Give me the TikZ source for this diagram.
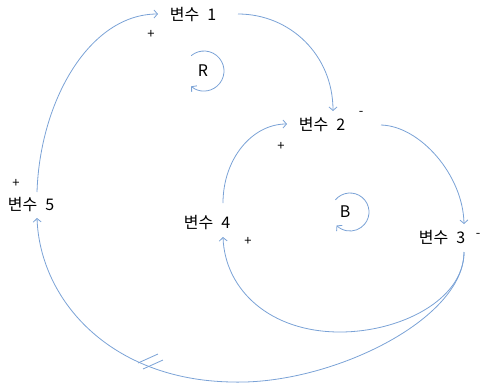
\documentclass[tikz,border=0pt]{standalone}
\usepackage{fontspec}
\setmainfont{Noto Sans CJK KR}
\usetikzlibrary{arrows.meta}
\definecolor{lnk}{RGB}{122,162,214}
\tikzset{
  lbl/.style={inner sep=0pt, font=\fontsize{16}{19}\selectfont},
  sgn/.style={inner sep=0pt, font=\fontsize{13}{15}\selectfont},
  lnkline/.style={draw=lnk, line width=0.8pt, -{Straight Barb[length=3.5pt,width=8pt]}},
  hashline/.style={draw=lnk, line width=0.8pt},
}
\begin{document}
\begin{tikzpicture}[x=1pt,y=1pt]
\useasboundingbox (0,0) rectangle (481,-384);
% variables
\node[lbl] (v1) at (193,-15) {변수\hspace{0.5em}1};
\node[lbl] (v2) at (322,-125) {변수\hspace{0.5em}2};
\node[lbl] (v3) at (442,-238) {변수\hspace{0.5em}3};
\node[lbl] (v4) at (207,-223) {변수\hspace{0.5em}4};
\node[lbl] (v5) at (31,-205) {변수\hspace{0.5em}5};
% loop labels
\node[lbl] (R) at (203,-71) {R};
\node[lbl] (B) at (345,-212) {B};
% polarity signs
\node[sgn] (p1) at (151,-34) {+};
\node[sgn] (p2) at (281,-146) {+};
\node[sgn] (p5) at (16,-183) {+};
\node[sgn] (p4) at (248,-241) {+};
\node[sgn] (m2) at (361,-113) {-};
\node[sgn] (m3) at (478,-235) {-};
% connector end points
\coordinate (v1in) at (158,-14);
\coordinate (v1out) at (238,-14);
\coordinate (v2top) at (333,-111);
\coordinate (v2left) at (287,-124);
\coordinate (v2out) at (381,-125);
\coordinate (v3in) at (464,-224);
\coordinate (v3out) at (464,-252);
\coordinate (v4out) at (223,-203);
\coordinate (v4in) at (223,-237);
\coordinate (v5out) at (37,-192);
\coordinate (v5in) at (37,-218);
% links
\draw[lnkline] (v5out) .. controls (40,-100) and (90,-14) .. (v1in);
\draw[lnkline] (v1out) .. controls (290,-14) and (333,-55) .. (v2top);
\draw[lnkline] (v4out) .. controls (223,-159) and (252,-124) .. (v2left);
\draw[lnkline] (v2out) .. controls (420,-126) and (463,-175) .. (v3in);
\draw[lnkline] (v3out) .. controls (464,-300) and (400,-332) .. (340,-332)
   .. controls (270,-332) and (225,-290) .. (v4in);
\draw[lnkline] (v3out) .. controls (464,-320) and (330,-385) .. (232,-382)
   .. controls (110,-380) and (40,-300) .. (v5in);
% delay marks
\draw[hashline] (138,-363) -- (158,-354);
\draw[hashline] (143,-369) -- (163,-360);
% loop arrows
\draw[lnkline] ([shift={(130:20)}]204,-71) arc[start angle=130,end angle=-130,radius=20];
\draw[lnkline] ([shift={(140:19)}]350,-212) arc[start angle=140,end angle=-135,radius=19];
\end{tikzpicture}
\end{document}
